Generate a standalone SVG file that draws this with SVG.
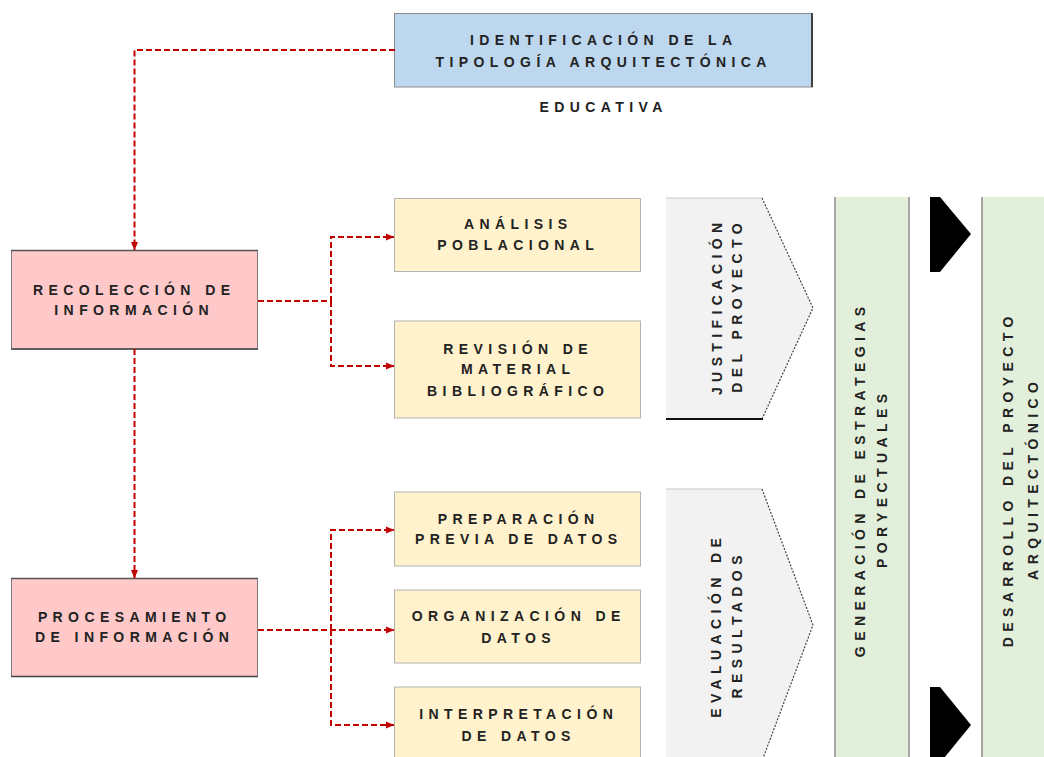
<svg xmlns="http://www.w3.org/2000/svg" width="1044" height="757" viewBox="0 0 1044 757">
<defs>
<style>
text{font-family:"Liberation Sans",Arial,sans-serif;font-size:14px;font-weight:bold;fill:#222;letter-spacing:5.4px;text-anchor:middle}
.con{fill:none;stroke:#c00000;stroke-width:2;stroke-dasharray:6 3}
.arr{marker-end:url(#ah)}
.yel{fill:#fff2cc;stroke:#b3b3b3;stroke-width:1}
.pink{fill:#ffc9c9;stroke:#7a7a7a;stroke-width:1}
.grn{fill:#e2efda}
.gline{stroke:#a6a6a6;stroke-width:2}
.chev{fill:#f2f2f2}
.dot{fill:none;stroke:#444;stroke-width:1.2;stroke-dasharray:2 1.5}
</style>
<marker id="ah" markerUnits="userSpaceOnUse" markerWidth="9" markerHeight="8" refX="8" refY="4" orient="auto">
<path d="M0,0.5 L8.5,4 L0,7.5 z" fill="#c00000"/>
</marker>
</defs>
<rect width="1044" height="757" fill="#ffffff"/>

<g id="identificacion">
<rect x="394.5" y="13.5" width="418" height="73.5" fill="#bdd7ee" stroke="#8c8c8c" stroke-width="1"/>
<line x1="812" y1="13" x2="812" y2="87" stroke="#404040" stroke-width="2"/>
<text x="603.7" y="45">IDENTIFICACIÓN DE LA</text>
<text x="603.7" y="66.5">TIPOLOGÍA ARQUITECTÓNICA</text>
</g>
<g id="educativa">
<text x="603.7" y="112">EDUCATIVA</text>
</g>

<g id="recoleccion">
<rect x="11.5" y="250.5" width="246" height="98.5" class="pink"/>
<line x1="11" y1="250.5" x2="258" y2="250.5" stroke="#555" stroke-width="1.5"/>
<line x1="11" y1="349" x2="258" y2="349" stroke="#444" stroke-width="1.5"/>
<text x="134.2" y="295">RECOLECCIÓN DE</text>
<text x="134.2" y="315">INFORMACIÓN</text>
</g>

<g id="procesamiento">
<rect x="11.5" y="578.5" width="246" height="98" class="pink"/>
<line x1="11" y1="578.5" x2="258" y2="578.5" stroke="#555" stroke-width="1.5"/>
<line x1="11" y1="676.5" x2="258" y2="676.5" stroke="#444" stroke-width="1.5"/>
<text x="134.7" y="622">PROCESAMIENTO</text>
<text x="134.7" y="642">DE INFORMACIÓN</text>
</g>

<g id="analisis">
<rect x="394.5" y="198.5" width="246" height="73" class="yel" stroke="#e6dcc0"/>
<text x="518.2" y="229">ANÁLISIS</text>
<text x="518.2" y="249.5">POBLACIONAL</text>
</g>
<g id="revision">
<rect x="394.5" y="321" width="246" height="97" class="yel"/>
<text x="518.2" y="353.5">REVISIÓN DE</text>
<text x="518.2" y="374">MATERIAL</text>
<text x="518.2" y="396">BIBLIOGRÁFICO</text>
</g>
<g id="preparacion">
<rect x="394.5" y="492" width="246" height="74" class="yel"/>
<text x="518.7" y="524">PREPARACIÓN</text>
<text x="518.7" y="544">PREVIA DE DATOS</text>
</g>
<g id="organizacion">
<rect x="394.5" y="590" width="246" height="73" class="yel"/>
<text x="518.7" y="621">ORGANIZACIÓN DE</text>
<text x="518.7" y="643">DATOS</text>
</g>
<g id="interpretacion">
<rect x="394.5" y="687" width="246" height="80" class="yel"/>
<text x="518.7" y="719">INTERPRETACIÓN</text>
<text x="518.7" y="741">DE DATOS</text>
</g>

<g id="justificacion">
<polygon points="666,198 762,198 813,308 762,419 666,419" class="chev"/>
<line x1="666" y1="198" x2="762" y2="198" stroke="#c8c8c8" stroke-width="1"/>
<polyline points="762,198 813,308 762,419" class="dot"/>
<line x1="666" y1="419" x2="763" y2="419" stroke="#111" stroke-width="2"/>
<text transform="translate(722,309) rotate(-90)" x="2.7">JUSTIFICACIÓN</text>
<text transform="translate(742,308) rotate(-90)" x="2.7">DEL PROYECTO</text>
</g>

<g id="evaluacion">
<polygon points="666,489 762,489 813,625 762,761 666,761" class="chev"/>
<line x1="666" y1="489" x2="762" y2="489" stroke="#c8c8c8" stroke-width="1"/>
<polyline points="762,489 813,625 762,761" class="dot"/>
<text transform="translate(721,628) rotate(-90)" x="2.7">EVALUACIÓN DE</text>
<text transform="translate(742,627) rotate(-90)" x="2.7">RESULTADOS</text>
</g>

<g id="generacion">
<rect x="835" y="197" width="74" height="565" class="grn"/>
<line x1="835" y1="197" x2="835" y2="757" class="gline"/>
<line x1="909" y1="197" x2="909" y2="757" class="gline"/>
<text transform="translate(865,482) rotate(-90)" x="2.7">GENERACIÓN DE ESTRATEGIAS</text>
<text transform="translate(887,481) rotate(-90)" x="2.7">PORYECTUALES</text>
</g>

<g id="desarrollo">
<rect x="982" y="197" width="70" height="565" class="grn"/>
<line x1="982" y1="197" x2="982" y2="757" class="gline"/>
<text transform="translate(1013,482) rotate(-90)" x="2.7">DESARROLLO DEL PROYECTO</text>
<text transform="translate(1038,481) rotate(-90)" x="2.7">ARQUITECTÓNICO</text>
</g>

<g id="flecha-superior">
<polygon points="930,197 940,197 971,234 940,272 930,272" fill="#000"/>
</g>
<g id="flecha-inferior">
<polygon points="930,687 940,687 971,725 940,763 930,763" fill="#000"/>
</g>

<g id="connectors">
<path d="M395,50 H134.5 V250" class="con arr"/>
<path d="M134.5,349 V578" class="con arr"/>
<path d="M258,301 H331 V237 H394" class="con arr"/>
<path d="M331,301 V366 H394" class="con arr"/>
<path d="M258,630 H394" class="con arr"/>
<path d="M331,630 V530 H394" class="con arr"/>
<path d="M331,630 V725 H394" class="con arr"/>
</g>
</svg>
